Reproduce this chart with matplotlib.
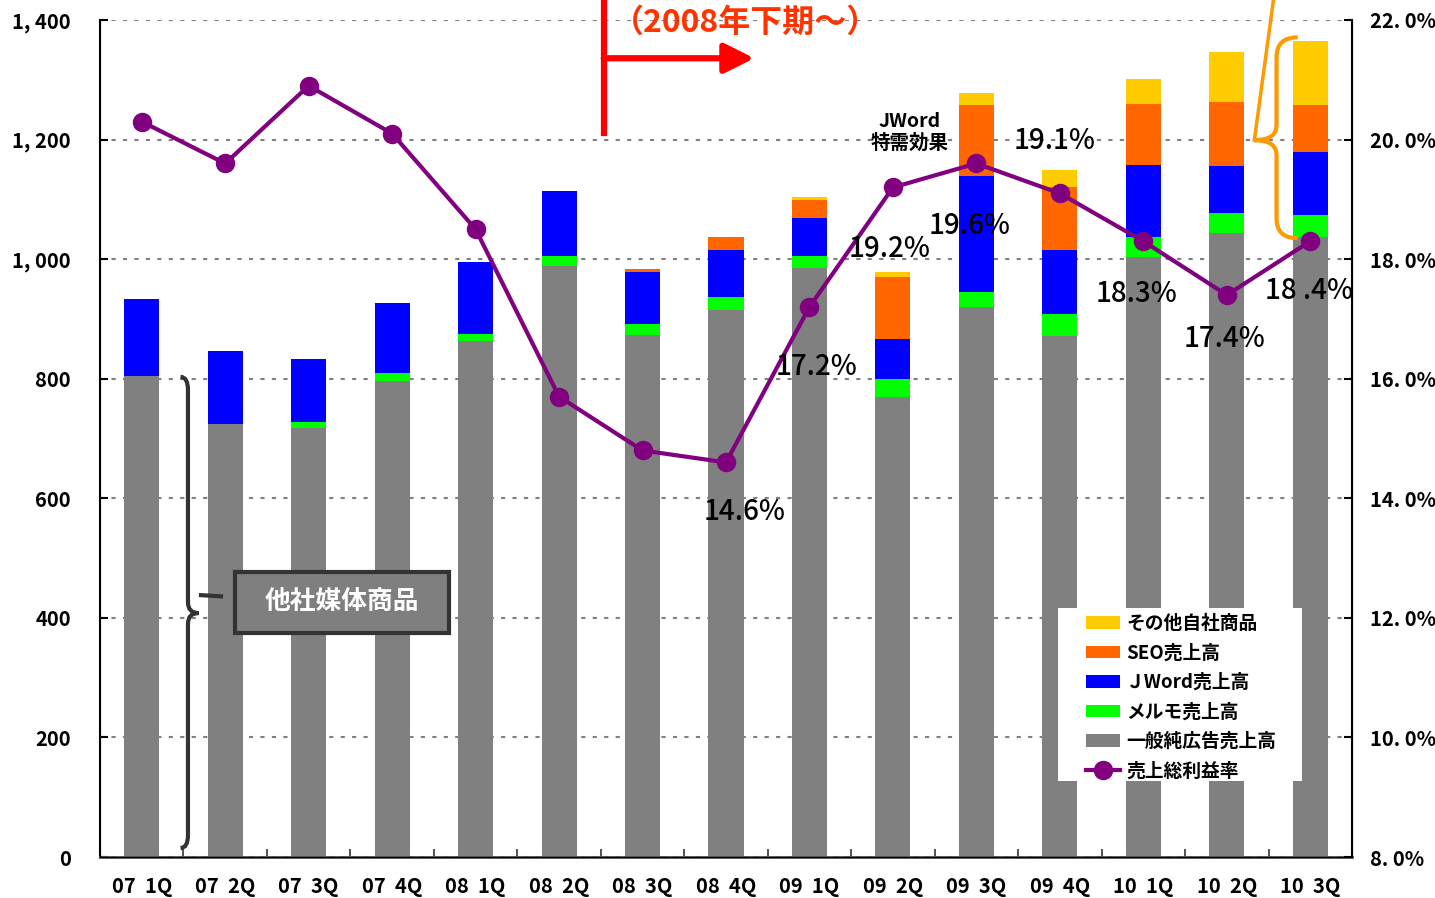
import numpy as np
import matplotlib.pyplot as plt
from matplotlib.path import Path
from matplotlib.patches import PathPatch, Rectangle

plt.rcParams['font.family'] = ['Noto Sans CJK JP', 'DejaVu Sans']

quarters = ['07  1Q', '07  2Q', '07  3Q', '07  4Q', '08  1Q', '08  2Q', '08  3Q', '08  4Q',
            '09  1Q', '09  2Q', '09  3Q', '09  4Q', '10  1Q', '10  2Q', '10  3Q']
general_ads = [804, 724, 717, 796, 863, 989, 873, 915, 985, 769, 920, 871, 1003, 1043, 1037]
merumo = [0, 0, 10, 13, 12, 17, 18, 21, 20, 30, 25, 37, 34, 34, 37]
jword = [129, 122, 106, 117, 120, 108, 87, 79, 64, 67, 194, 107, 120, 79, 105]
seo = [0, 0, 0, 0, 0, 0, 5, 22, 30, 104, 119, 105, 102, 107, 79]
other_own = [0, 0, 0, 0, 0, 0, 0, 0, 5, 8, 20, 29, 42, 83, 107]
gross_margin = [20.3, 19.6, 20.9, 20.1, 18.5, 15.7, 14.8, 14.6, 17.2, 19.2, 19.6, 19.1, 18.3, 17.4, 18.3]
margin_labels = [None] * 7 + ['14.6%', '17.2%', '19.2%', '19.6%', '19.1%', '18.3%', '17.4%', '18 .4%']
label_offsets = [None] * 7 + [(19, -49), (7, -60), (-3, -61), (-7, -62), (-5, 53), (-7, -52), (-2, -43), (-1, -49)]

series = [
    (general_ads, '#808080', '一般純広告売上高'),
    (merumo, '#00FF00', 'メルモ売上高'),
    (jword, '#0000FF', 'ＪWord売上高'),
    (seo, '#FF6600', 'SEO売上高'),
    (other_own, '#FFCC00', 'その他自社商品'),
]


def brace(ax, xb, xt, xe, y0, y1, ym, r, rt, **kw):
    verts = [(xe, y0), (xb, y0), (xb, y0 - r), (xb, ym + rt), (xb, ym), (xt, ym),
             (xb, ym), (xb, ym - rt), (xb, y1 + r), (xb, y1), (xe, y1)]
    codes = [Path.MOVETO, Path.CURVE3, Path.CURVE3, Path.LINETO, Path.CURVE3, Path.CURVE3,
             Path.CURVE3, Path.CURVE3, Path.LINETO, Path.CURVE3, Path.CURVE3]
    ax.add_patch(PathPatch(Path(verts, codes), fill=False, clip_on=False, **kw))


fig = plt.figure(figsize=(14.35, 8.98), dpi=100)
ax = fig.add_axes([100 / 1435, 41 / 898, 1252 / 1435, 837 / 898])
x = np.arange(len(quarters))

bottom = np.zeros(len(quarters))
handles = {}
for vals, color, name in series:
    bars = ax.bar(x, vals, 0.42, bottom=bottom, color=color, zorder=2)
    handles[name] = bars
    bottom += np.array(vals)

ax.set_xlim(-0.5, len(quarters) - 0.5)
ax.set_ylim(0, 1400)
ax.set_yticks(range(0, 1401, 200))
ax.set_yticklabels([f'{v:,}'.replace(',', ', ') for v in range(0, 1401, 200)])
ax.set_xticks(x)
ax.set_xticklabels(quarters)
ax.set_xticks(np.arange(0.5, len(quarters) - 1, 1), minor=True)
ax.tick_params(axis='x', which='major', length=0, pad=14, labelsize=14.5)
ax.tick_params(axis='x', which='minor', direction='in', length=6, width=1.2, color='#333333')
ax.tick_params(axis='y', direction='in', length=6, width=1.5, pad=21, labelsize=14.5)
for lbl in ax.get_xticklabels() + ax.get_yticklabels():
    lbl.set_fontweight('bold')
ax.yaxis.grid(True, color='#808080', linestyle=(0, (2, 3.5)), linewidth=1.5)
ax.set_axisbelow(True)
ax.spines['top'].set_visible(False)
ax.spines['left'].set_linewidth(1.5)
ax.spines['bottom'].set_linewidth(2)
ax.spines['bottom'].set_color('#555555')

ax2 = ax.twinx()
ax2.set_ylim(8, 22)
ax2.set_yticks(range(8, 23, 2))
ax2.set_yticklabels([f'{v:.1f}%'.replace('.', '. ') for v in range(8, 23, 2)])
ax2.tick_params(axis='y', direction='in', length=6, width=1.5, pad=13, labelsize=14.5)
for lbl in ax2.get_yticklabels():
    lbl.set_fontweight('bold')
ax2.spines['top'].set_visible(False)
ax2.spines['right'].set_linewidth(1.5)
line, = ax2.plot(x, gross_margin, color='#800080', lw=3, marker='o', markersize=13, zorder=3)

for i, (txt, off) in enumerate(zip(margin_labels, label_offsets)):
    if txt is None:
        continue
    ax2.annotate(txt, (x[i], gross_margin[i]), xytext=off, textcoords='offset pixels',
                 ha='center', va='center', fontsize=20, fontweight='medium', zorder=4,
                 annotation_clip=False)

# 2008 second half marker
ax.plot([5.536, 5.536], [1211, 1460], color='#FF0000', lw=4.5, clip_on=False, zorder=5)
ax.annotate('', xy=(7.34, 1336), xytext=(5.536, 1336), annotation_clip=False,
            arrowprops=dict(arrowstyle='-|>,head_length=0.6,head_width=0.3', mutation_scale=30,
                            color='#FF0000', lw=4.5, shrinkA=0, shrinkB=0))
ax.text(7.23, 1396, '（2008年下期～）', color='#FF3300', fontsize=23, fontweight='bold',
        ha='center', va='center', clip_on=False)

ax.text(9.20, 1212, 'JWord\n特需効果', fontsize=14, fontweight='bold', ha='center', va='center',
        linespacing=1.15)

# brace for other media products
brace(ax, 0.554, 0.68, 0.465, 803, 15, 408, 22, 18, edgecolor='#333333', lw=3, zorder=5)
ax.plot([0.71, 0.95], [438, 436], color='#333333', lw=3, zorder=5)
ax.add_patch(Rectangle((1.117, 375), 2.563, 102, facecolor='#7F7F7F', edgecolor='#333333',
                       lw=3, zorder=5))
ax.text(2.40, 426, '他社媒体商品', color='white', fontsize=18.5, fontweight='bold',
        ha='center', va='center', zorder=6)

# brace for own products
brace(ax, 13.596, 13.33, 13.85, 1371, 1035, 1199, 33, 25, edgecolor='#FF9900', lw=3, zorder=5)
ax.plot([13.33, 13.575], [1199, 1450], color='#FF9900', lw=2.5, clip_on=False, zorder=5)

ax2.add_patch(Rectangle((1058 / 1435, 1 - 781 / 898), 244 / 1435, 173 / 898,
                        transform=fig.transFigure, facecolor='white', edgecolor='none', zorder=5))
order = ['その他自社商品', 'SEO売上高', 'ＪWord売上高', 'メルモ売上高', '一般純広告売上高']
leg = ax2.legend([handles[n] for n in order] + [line], order + ['売上総利益率'],
                 loc='upper left', bbox_to_anchor=(1086 / 1435, 1 - 614 / 898),
                 bbox_transform=fig.transFigure, frameon=False, borderpad=0, borderaxespad=0,
                 prop={'size': 13.5, 'weight': 'bold'}, handlelength=1.8, handleheight=0.65,
                 handletextpad=0.35, labelspacing=0.56)
leg.set_zorder(6)

fig.savefig('out.png', dpi=100)
